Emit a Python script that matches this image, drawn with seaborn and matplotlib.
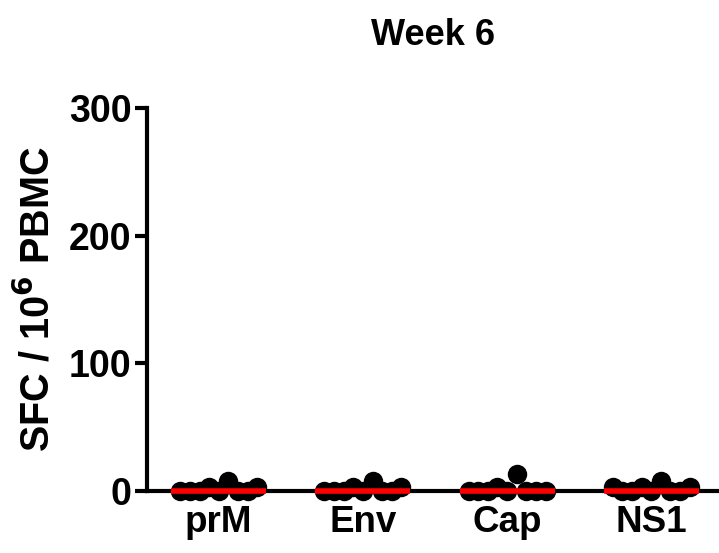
import numpy as np
import pandas as pd
import matplotlib
matplotlib.use("Agg")
import matplotlib.pyplot as plt
import seaborn as sns

categories = ["prM", "Env", "Cap", "NS1"]
animals = ["A1", "A2", "A3", "A4", "A5", "A6", "A7", "A8", "A9"]
prM_vals = [0, 0, 0, 3, 0, 8, 0, 0, 3]
Env_vals = [0, 0, 0, 3, 0, 8, 0, 0, 3]
Cap_vals = [0, 0, 0, 3, 0, 13, 0, 0, 0]
NS1_vals = [3, 0, 0, 3, 0, 8, 0, 0, 3]
yticks = [0, 100, 200, 300]

rows = []
for c, vals in zip(categories, [prM_vals, Env_vals, Cap_vals, NS1_vals]):
    for a, v in zip(animals, vals):
        rows.append({"antigen": c, "animal": a, "sfc": v})
df = pd.DataFrame(rows)

sns.set_style("ticks")
plt.rcParams["font.family"] = ["Liberation Sans", "DejaVu Sans"]
plt.rcParams["font.weight"] = "bold"
for k in ["text.color", "axes.labelcolor", "xtick.color", "ytick.color", "axes.edgecolor"]:
    plt.rcParams[k] = "black"

fig = plt.figure(figsize=(7.19, 5.53), dpi=100)
ax = fig.add_axes([0.204, 0.112, 0.796, 0.693])

sns.stripplot(data=df, x="antigen", y="sfc", order=categories, hue="animal",
              hue_order=animals, palette=["black"] * len(animals), dodge=True,
              jitter=False, size=14, linewidth=0, ax=ax, zorder=3, legend=False)
# compress the dodge spread around each category centre
for coll in ax.collections:
    off = coll.get_offsets()
    if len(off):
        centre = np.round(off[:, 0])
        off[:, 0] = centre + (off[:, 0] - centre) * 0.75
        coll.set_offsets(off)

sns.boxplot(data=df, x="antigen", y="sfc", order=categories, width=0.66,
            showbox=False, showcaps=False, showfliers=False,
            whiskerprops={"visible": False},
            medianprops={"color": "#ff0000", "linewidth": 4, "zorder": 5},
            ax=ax)

for art in ax.collections + ax.lines:
    art.set_clip_on(False)

ax.set_ylim(0, 300)
ax.set_xlim(-0.5, 3.47)
ax.set_yticks(yticks)
ax.set_yticklabels([str(t) for t in yticks], fontsize=27, fontweight="bold")
ax.set_xticks(range(len(categories)))
ax.set_xticklabels(categories, fontsize=26.5, fontweight="bold")
ax.set_xlabel("")
ax.set_ylabel("SFC / 10$^\\mathbf{6}$ PBMC", fontsize=28.5, fontweight="bold", labelpad=8)
ax.set_title("Week 6", fontsize=26, fontweight="bold", pad=45)

for s in ["top", "right"]:
    ax.spines[s].set_visible(False)
for s in ["left", "bottom"]:
    ax.spines[s].set_linewidth(3)
ax.tick_params(axis="y", length=9, width=3, pad=2)
ax.tick_params(axis="x", length=6, width=2, pad=4)

fig.savefig("out.png", dpi=100)
